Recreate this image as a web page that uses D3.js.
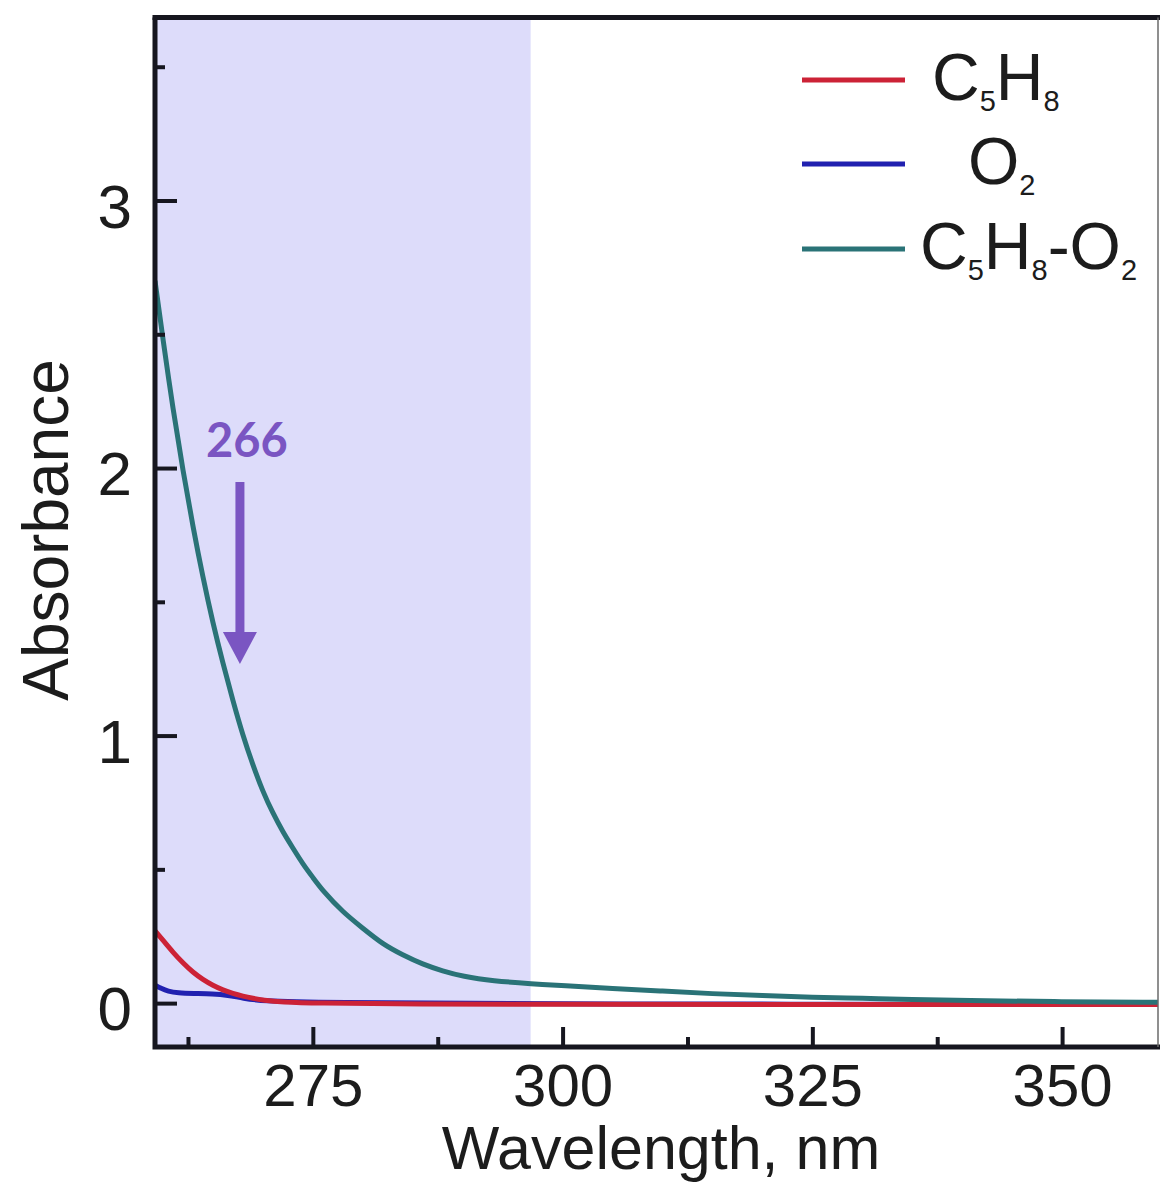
<!DOCTYPE html>
<html>
<head>
<meta charset="utf-8">
<script src="https://cdn.jsdelivr.net/npm/d3@7"></script>
<style>
	body { margin: 0; background: #fff; }
	svg { display: block; }
	text { font-family: "Liberation Sans", Arial, sans-serif; }
</style>
</head>
<body>
<div id="plot"></div>
<script>
// values
var seriesNames = ["C5H8", "O2", "C5H8-O2"];
var seriesColors = ["#cc2236", "#2121b0", "#2a7377"];

var c5h8Wave = [259.2, 260, 261, 262, 263, 264, 265, 266, 267, 268, 269, 270, 272, 275, 285, 300, 330, 359.6];
var c5h8Abs  = [0.27, 0.235, 0.19, 0.15, 0.115, 0.088, 0.066, 0.049, 0.036, 0.026, 0.018, 0.011, 0.004, 0, -0.003, -0.005, -0.005, -0.005];

var o2Wave = [259.2, 259.8, 260.5, 261.5, 263, 265, 266.5, 268, 270, 275, 300, 359.6];
var o2Abs  = [0.067, 0.055, 0.044, 0.038, 0.036, 0.035, 0.03, 0.018, 0.008, 0.002, -0.004, -0.004];

var mixWave = [259.2, 260, 261, 262, 263, 264, 265, 266, 267, 268, 269, 270, 271, 272, 273, 274, 275, 276, 278, 280, 282, 284, 286, 288, 290, 293, 297, 300, 305, 310, 315, 320, 325, 330, 335, 340, 350, 359.6];
var mixAbs  = [2.70, 2.48, 2.22, 1.99, 1.78, 1.59, 1.42, 1.27, 1.13, 1.00, 0.89, 0.79, 0.71, 0.64, 0.58, 0.52, 0.47, 0.42, 0.34, 0.28, 0.22, 0.18, 0.145, 0.12, 0.10, 0.083, 0.072, 0.065, 0.055, 0.045, 0.035, 0.028, 0.022, 0.018, 0.013, 0.01, 0.005, 0.003];

var xMajorTicks = [275, 300, 325, 350];
var xMinorTicks = [262.5, 287.5, 312.5, 337.5];
var yMajorTicks = [0, 1, 2, 3];
var yMinorTicks = [0.5, 1.5, 2.5, 3.5];

var laserBand = [259.2, 296.8];   // shaded excitation region
var laserLine = 266;              // annotated wavelength

var W = 1160, H = 1182;
var plotLeft = 155, plotRight = 1158, plotTop = 17.5, plotBottom = 1047;
var axisColor = "#16161f";

var x = d3.scaleLinear().domain([259.2, 359.6]).range([plotLeft, plotRight]);
var y = d3.scaleLinear().domain([-0.164, 3.684]).range([plotBottom, plotTop]);

var svg = d3.select("#plot").append("svg")
	.attr("width", W)
	.attr("height", H);

svg.append("defs").append("clipPath").attr("id", "clip")
	.append("rect")
	.attr("x", plotLeft).attr("y", plotTop)
	.attr("width", plotRight - plotLeft).attr("height", plotBottom - plotTop);

// shaded band
svg.append("rect")
	.attr("x", x(laserBand[0]))
	.attr("y", plotTop)
	.attr("width", x(laserBand[1]) - x(laserBand[0]))
	.attr("height", plotBottom - plotTop)
	.style("fill", "#dddcfa");

// curves
var line = d3.line()
	.x(function(d){ return x(d[0]); })
	.y(function(d){ return y(d[1]); })
	.curve(d3.curveBasis);

function zip(a, b){
	return a.map(function(v, i){ return [v, b[i]]; });
}

var series = [zip(o2Wave, o2Abs), zip(c5h8Wave, c5h8Abs), zip(mixWave, mixAbs)];
var seriesColorOrder = [seriesColors[1], seriesColors[0], seriesColors[2]];

svg.append("g").attr("clip-path", "url(#clip)")
	.selectAll("path").data(series).enter().append("path")
	.attr("d", line)
	.style("fill", "none")
	.style("stroke", function(d, i){ return seriesColorOrder[i]; })
	.style("stroke-width", 5)
	.style("stroke-linejoin", "round");

// axes: ticks point inward
function styleAxis(g){
	g.select(".domain").remove();
	g.selectAll(".tick line").style("stroke", axisColor).style("stroke-width", 4);
	g.selectAll(".tick text")
		.style("font-family", "'Liberation Sans', Arial, sans-serif")
		.style("font-size", "62px")
		.style("fill", "#1c1c1c");
}

svg.append("g")
	.attr("transform", "translate(0," + plotBottom + ")")
	.call(d3.axisBottom(x).tickValues(xMajorTicks).tickSize(-20).tickPadding(59).tickFormat(d3.format("d")))
	.call(styleAxis)
	.selectAll(".tick text").attr("dy", "0").style("font-size", "60px");

svg.append("g")
	.attr("transform", "translate(0," + plotBottom + ")")
	.call(d3.axisBottom(x).tickValues(xMinorTicks).tickSize(-10).tickFormat(""))
	.call(styleAxis);

svg.append("g")
	.attr("transform", "translate(" + plotLeft + ",0)")
	.call(d3.axisLeft(y).tickValues(yMajorTicks).tickSize(-22).tickPadding(23).tickFormat(d3.format("d")))
	.call(styleAxis)
	.selectAll(".tick text").attr("dy", "0.43em");

svg.append("g")
	.attr("transform", "translate(" + plotLeft + ",0)")
	.call(d3.axisLeft(y).tickValues(yMinorTicks).tickSize(-10).tickFormat(""))
	.call(styleAxis);

// frame
svg.append("path")
	.attr("d", "M" + plotLeft + "," + plotTop + "V" + plotBottom + "H" + (plotRight + 2))
	.style("fill", "none").style("stroke", axisColor).style("stroke-width", 5);
svg.append("line")
	.attr("x1", plotLeft - 2.5).attr("x2", W).attr("y1", plotTop).attr("y2", plotTop)
	.style("stroke", axisColor).style("stroke-width", 5);
svg.append("line")
	.attr("x1", plotRight).attr("x2", plotRight).attr("y1", plotTop).attr("y2", plotBottom)
	.style("stroke", "#6a6a6a").style("stroke-width", 1.5);

// axis titles
svg.append("text")
	.attr("x", 661).attr("y", 1169)
	.attr("text-anchor", "middle")
	.style("font-size", "61px").style("fill", "#1c1c1c")
	.text("Wavelength, nm");

svg.append("text")
	.attr("transform", "translate(68,530) rotate(-90)")
	.attr("text-anchor", "middle")
	.style("font-size", "64px").style("fill", "#1c1c1c")
	.text("Absorbance");

// 266 annotation
var arrowX = x(laserLine) + 17;
var purple = "#7a55c2";
svg.append("text")
	.attr("x", arrowX + 7).attr("y", 457)
	.attr("text-anchor", "middle")
	.style("font-family", "Lato, 'Open Sans', sans-serif")
	.style("font-weight", "bold")
	.style("font-size", "47px")
	.style("fill", purple)
	.text(laserLine);

svg.append("line")
	.attr("x1", arrowX).attr("x2", arrowX)
	.attr("y1", 482).attr("y2", 636)
	.style("stroke", purple).style("stroke-width", 9);
svg.append("path")
	.attr("d", "M" + (arrowX - 17) + ",632L" + (arrowX + 17) + ",632L" + arrowX + ",664Z")
	.style("fill", purple);

// legend
var legendY = [80, 164, 249];
var legendTextX = [932, 968, 920];

var legend = svg.append("g").selectAll("g").data(seriesNames).enter().append("g");

legend.append("line")
	.attr("x1", 802).attr("x2", 905)
	.attr("y1", function(d, i){ return legendY[i]; })
	.attr("y2", function(d, i){ return legendY[i]; })
	.style("stroke", function(d, i){ return seriesColors[i]; })
	.style("stroke-width", 5);

legend.append("text")
	.attr("x", function(d, i){ return legendTextX[i]; })
	.attr("y", function(d, i){ return legendY[i] + 20; })
	.style("font-size", "66px")
	.style("fill", "#1c1c1c")
	.each(function(d){
		var t = d3.select(this);
		var sub = false;
		// digits become subscripts
		d.match(/\d+|\D+/g).forEach(function(part){
			var isDigit = /\d/.test(part);
			var dy = 0;
			if(isDigit && !sub){ dy = 11; sub = true; }
			else if(!isDigit && sub){ dy = -11; sub = false; }
			t.append("tspan")
				.attr("dy", dy)
				.style("font-size", isDigit ? "29px" : "66px")
				.text(part);
		});
	});
</script>
</body>
</html>
